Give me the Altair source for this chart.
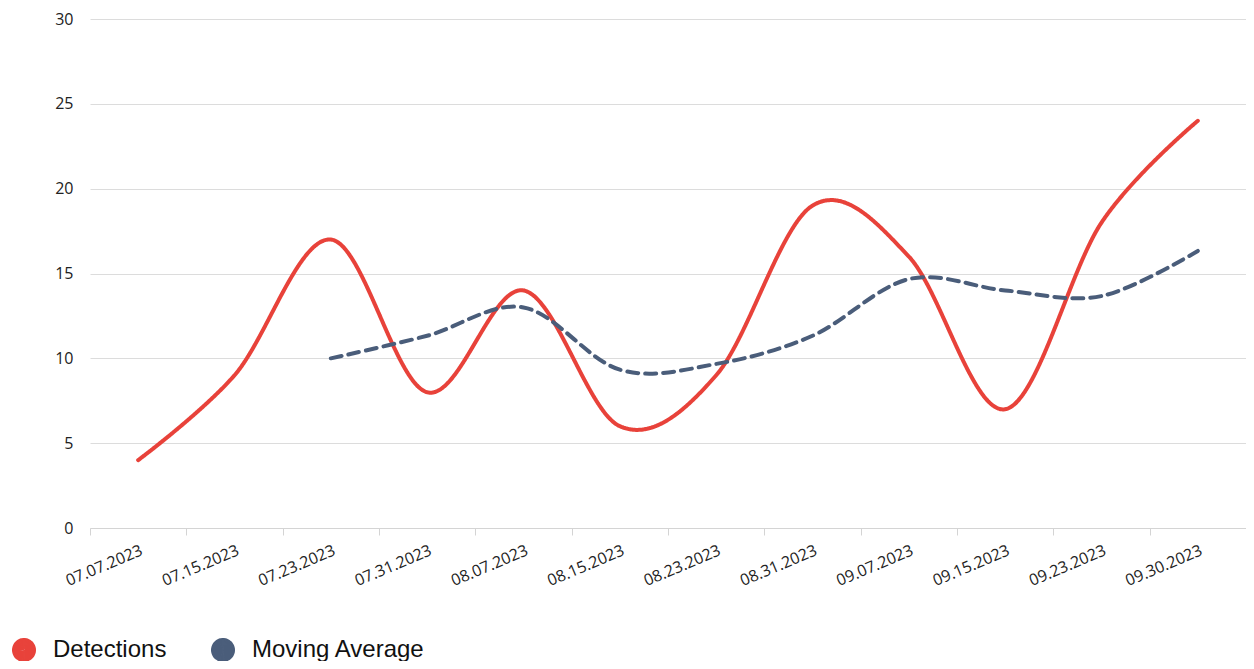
import altair as alt
import pandas as pd

dates = ["07.07.2023", "07.15.2023", "07.23.2023", "07.31.2023", "08.07.2023", "08.15.2023",
         "08.23.2023", "08.31.2023", "09.07.2023", "09.15.2023", "09.23.2023", "09.30.2023"]
detections = [4, 9, 17, 8, 14, 6, 9, 19, 16, 7, 18, 24]
moving_avg_dates = dates[2:]
moving_avg = [10, 11.33, 13, 9.33, 9.67, 11.33, 14.67, 14, 13.67, 16.33]

series_names = ["Detections", "Moving Average"]
colors = ["#e8423a", "#4a5d7a"]

rows = [{"date": d, "value": v, "series": "Detections", "style": "solid"} for d, v in zip(dates, detections)]
rows += [{"date": d, "value": v, "series": "Moving Average", "style": "dashed"}
         for d, v in zip(moving_avg_dates, moving_avg)]
df = pd.DataFrame(rows)

x = alt.X("date:N", sort=dates, scale=alt.Scale(domain=dates, paddingInner=0, paddingOuter=0),
          axis=alt.Axis(title=None, labelAngle=-23, labelAlign="right", labelBaseline="top",
                        labelFont="Open Sans", labelFontSize=16, labelColor="#222",
                        labelPadding=7, tickBand="extent", tickSize=7, tickColor="#d4d4d4",
                        domainColor="#d4d4d4", grid=False))
y = alt.Y("value:Q", scale=alt.Scale(domain=[0, 30], nice=False),
          axis=alt.Axis(title=None, values=[0, 5, 10, 15, 20, 25, 30], domain=False, ticks=False,
                        labelFont="Open Sans", labelFontSize=16, labelColor="#222",
                        labelPadding=17, gridColor="#dcdcdc"))

lines = alt.Chart(df).mark_line(interpolate="cardinal", strokeWidth=4, strokeCap="round").encode(
    x=x, y=y,
    color=alt.Color("series:N", scale=alt.Scale(domain=series_names, range=colors),
                    legend=alt.Legend(title=None, orient="none", legendX=-78, legendY=619,
                                      direction="horizontal", symbolType="circle", symbolSize=144,
                                      symbolStrokeWidth=12, symbolDash=[1, 0],
                                      labelFont="Liberation Sans", labelFontSize=24, labelColor="#111",
                                      labelOffset=17, labelLimit=400, columnPadding=26, padding=0)),
    strokeDash=alt.StrokeDash("style:N", scale=alt.Scale(domain=["solid", "dashed"], range=[[1, 0], [11, 7]]),
                              legend=None),
    detail="series:N",
)

chart = alt.layer(lines).properties(
    width=1156, height=509,
    padding={"left": 82, "top": 11, "right": 0, "bottom": 133},
    autosize=alt.AutoSizeParams(type="none"),
).configure_view(stroke=None)

chart.save("out.html", embed_options={"renderer": "svg", "actions": False})
